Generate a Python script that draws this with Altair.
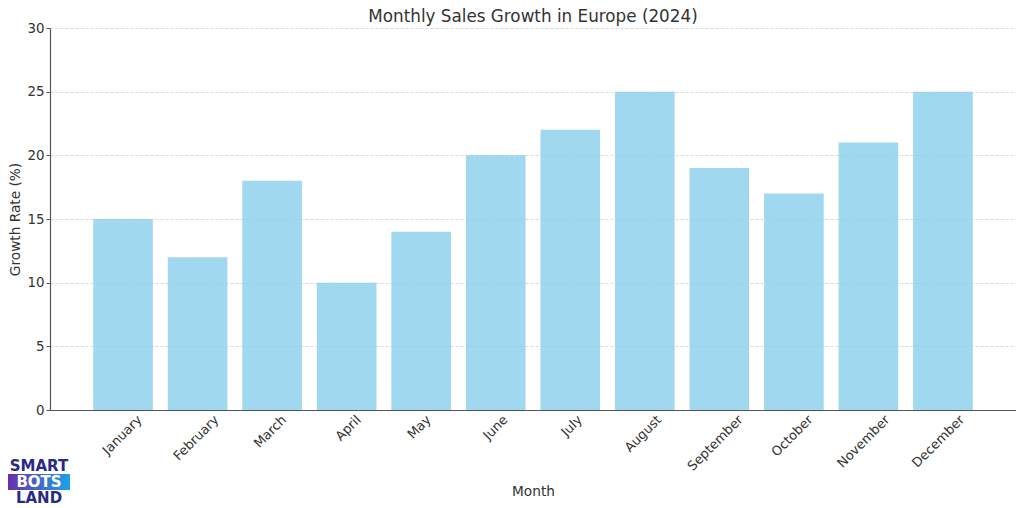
import altair as alt
import pandas as pd

months = ["January", "February", "March", "April", "May", "June", "July",
          "August", "September", "October", "November", "December"]
growth = [15, 12, 18, 10, 14, 20, 22, 25, 19, 17, 21, 25]

df = pd.DataFrame({"Month": months, "Growth": growth})

FONT = "DejaVu Sans"
TXT = "#333333"

bars = alt.Chart(df).mark_bar(color="#87CEEB", opacity=0.8).encode(
    x=alt.X("Month:N", sort=months,
            scale=alt.Scale(paddingInner=0.2, paddingOuter=0.58),
            axis=alt.Axis(title="Month", labelAngle=-45, labelAlign="right",
                          labelBaseline="top", labelPadding=3,
                          labelOffset={"expr": "length(datum.label)*2.3-3.5"},
                          labelFont=FONT, labelFontSize=13, labelColor=TXT,
                          titleFont=FONT, titleFontSize=13.7, titleColor=TXT,
                          titleFontWeight="normal",
                          ticks=False, titleY=81, titleBaseline="middle",
                          domainColor="#555555", domainWidth=1.2)),
    y=alt.Y("Growth:Q", scale=alt.Scale(domain=[0, 30], nice=False),
            axis=alt.Axis(title="Growth Rate (%)", values=[0, 5, 10, 15, 20, 25, 30],
                          labelFont=FONT, labelFontSize=13.4, labelColor=TXT,
                          titleFont=FONT, titleFontSize=13.7, titleColor=TXT,
                          titleFontWeight="normal",
                          tickSize=4, tickColor="#555555", labelPadding=2,
                          titleX=-35, titleY=191, titleAlign="center",
                          titleBaseline="middle", titleAngle=-90,
                          domainColor="#555555", domainWidth=1.2)),
)

box = alt.Chart(pd.DataFrame({"k": [0]})).mark_rect(
    color=alt.LinearGradient(gradient="linear",
                             stops=[alt.GradientStop(color="#6a2fa8", offset=0),
                                    alt.GradientStop(color="#1aa3e8", offset=1)],
                             x1=0, x2=1, y1=0, y2=0)
).encode(x=alt.value(-42), x2=alt.value(20), y=alt.value(446), y2=alt.value(462))

logo1 = alt.Chart(pd.DataFrame({"w": ["SMART"]})).mark_text(
    font=FONT, fontWeight="bold", fontSize=15, align="center", baseline="middle",
    color="#2a2a86").encode(text="w:N", x=alt.value(-11), y=alt.value(438))
logo2 = alt.Chart(pd.DataFrame({"w": ["BOTS"]})).mark_text(
    font=FONT, fontWeight="bold", fontSize=15, align="center", baseline="middle",
    color="#ffffff").encode(text="w:N", x=alt.value(-11), y=alt.value(454))
logo3 = alt.Chart(pd.DataFrame({"w": ["LAND"]})).mark_text(
    font=FONT, fontWeight="bold", fontSize=15, align="center", baseline="middle",
    color="#2a2a86").encode(text="w:N", x=alt.value(-11), y=alt.value(470))

chart = alt.layer(bars, box, logo1, logo2, logo3).properties(
    width=966, height=382,
    background="white",
    title=alt.Title("Monthly Sales Growth in Europe (2024)", font=FONT, fontSize=16.8,
                    fontWeight="normal", color=TXT, anchor="middle", offset=-5),
    autosize=alt.AutoSizeParams(type="none"),
    padding={"left": 42, "top": 20, "right": 0, "bottom": 98},
).configure_view(stroke=None).configure_axis(
    gridColor="#cfcfcf", gridDash=[3, 2], gridWidth=0.8,
)

chart.save("out.html", embed_options={"renderer": "svg", "actions": False})
